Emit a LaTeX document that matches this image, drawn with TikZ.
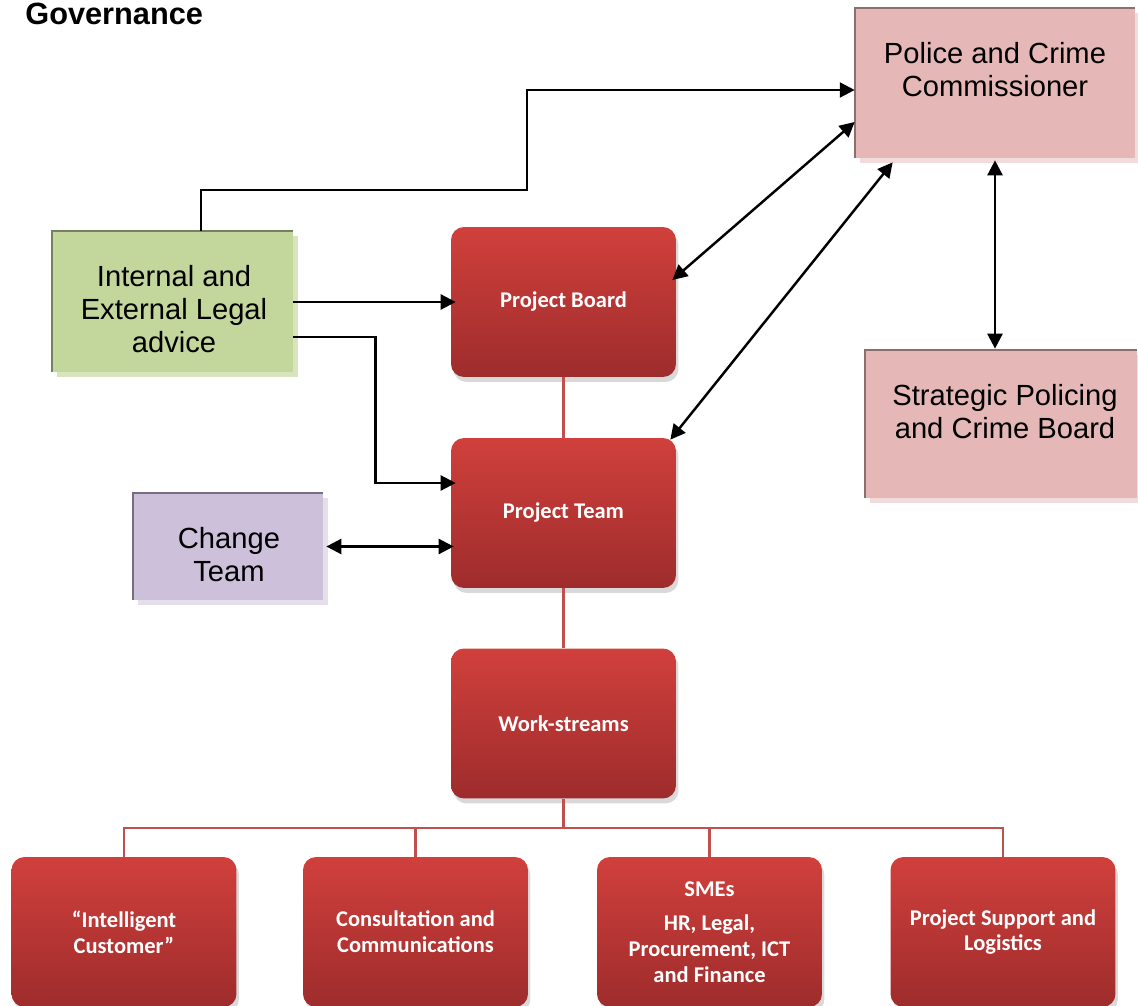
\documentclass[tikz,border=0pt]{standalone}
\usepackage{fontspec}
\setmainfont{Liberation Sans}
\newfontfamily\calib{Carlito}
\usetikzlibrary{arrows.meta,shadows,calc}
\definecolor{redtop}{RGB}{208,64,60}
\definecolor{redbot}{RGB}{158,44,44}
\definecolor{redline}{RGB}{192,80,77}
\definecolor{pinkfill}{RGB}{229,184,183}
\definecolor{pinkedge}{RGB}{140,110,110}
\definecolor{pinkshadow}{RGB}{242,220,219}
\definecolor{greenfill}{RGB}{195,214,155}
\definecolor{greenedge}{RGB}{118,128,98}
\definecolor{greenshadow}{RGB}{215,228,189}
\definecolor{lilacfill}{RGB}{204,192,218}
\definecolor{lilacedge}{RGB}{118,110,128}
\definecolor{lilacshadow}{RGB}{229,223,236}
\tikzset{
  redbox/.style={rounded corners=0.26cm, top color=redtop, bottom color=redbot,
    minimum width=4.5cm, minimum height=3cm, text=white, align=center,
    font=\calib\bfseries\fontsize{12.8}{14.7}\selectfont,
    drop shadow={shadow xshift=0.05cm, shadow yshift=-0.1cm, opacity=0.3}},
  flatbox/.style={inner sep=0pt},
  flattext/.style={align=center, inner sep=0pt, font=\fontsize{16.6}{18.7}\selectfont},
  arr/.style={line width=1.4pt, -{Triangle[length=8.5pt,width=8.5pt]}},
  dbl/.style={line width=1.4pt, {Triangle[length=8.5pt,width=8.5pt]}-{Triangle[length=8.5pt,width=8.5pt]}},
  redconn/.style={redline, line width=1.2pt},
  edgeline/.style={line width=1.3pt},
}
\begin{document}
\begin{tikzpicture}[x=0.02cm,y=-0.02cm]
\useasboundingbox (0,0) rectangle (1138,1006);

% title
\node[anchor=base west, inner sep=0pt, font=\bfseries\fontsize{17.5}{20}\selectfont] (title) at (25,25) {Governance};

% flat boxes
\node[flatbox, fill=pinkfill, minimum width=5.6cm, minimum height=3cm,
  general shadow={shadow xshift=0.1cm, shadow yshift=-0.1cm, fill=pinkshadow}] (pcc) at (995,83) {};
\draw[edgeline, pinkedge] (pcc.south west) -- (pcc.north west) -- (pcc.north east);
\node[flattext] (pcctxt) at (995,70) {Police and Crime\\Commissioner};

\node[flatbox, fill=pinkfill, minimum width=5.44cm, minimum height=2.96cm,
  general shadow={shadow xshift=0.1cm, shadow yshift=-0.1cm, fill=pinkshadow}] (spcb) at (1001,424) {};
\draw[edgeline, pinkedge] (spcb.south west) -- (spcb.north west) -- (spcb.north east);
\node[flattext] (spcbtxt) at (1005,412) {Strategic Policing\\and Crime Board};

\node[flatbox, fill=greenfill, minimum width=4.82cm, minimum height=2.82cm,
  general shadow={shadow xshift=0.1cm, shadow yshift=-0.1cm, fill=greenshadow}] (legal) at (172.5,301.5) {};
\draw[edgeline, greenedge] (legal.south west) -- (legal.north west) -- (legal.north east);
\node[flattext] (legaltxt) at (174,309) {Internal and\\External Legal\\advice};

\node[flatbox, fill=lilacfill, minimum width=3.8cm, minimum height=2.14cm,
  general shadow={shadow xshift=0.1cm, shadow yshift=-0.1cm, fill=lilacshadow}] (change) at (228,546.5) {};
\draw[edgeline, lilacedge] (change.south west) -- (change.north west) -- (change.north east);
\node[flattext] (changetxt) at (229,555) {Change\\Team};

% red boxes
\node[redbox] (pb) at (563.5,302) {Project Board};
\node[redbox] (pt) at (563.5,513) {Project Team};
\node[redbox] (ws) at (563.5,723.5) {Work-streams};
\node[redbox] (b1) at (124,932) {“Intelligent\\Customer”};
\node[redbox] (b2) at (415.5,932) {Consultation and\\Communications};
\node[redbox] (b3) at (709.5,932) {SMEs\\[5pt]HR, Legal,\\Procurement, ICT\\and Finance};
\node[redbox] (b4) at (1003,932) {Project Support and\\Logistics};

% red connectors
\coordinate (bus) at (563.5,828);
\draw[redconn] (pb.south) -- (pt.north);
\draw[redconn] (pt.south) -- (ws.north);
\draw[redconn] (ws.south) -- (bus);
\draw[redconn] (b1.north) |- (bus);
\draw[redconn] (b2.north) |- (bus);
\draw[redconn] (b3.north) |- (bus);
\draw[redconn] (b4.north) |- (bus);

% black arrows
\coordinate (bend) at (527,190);
\draw[arr] ([xshift=0.57cm]legal.north) |- (bend) |- ([yshift=-0.14cm]pcc.west);
\draw[arr] (legal.east |- pb.west) -- ([xshift=0.1cm]pb.west);
\draw[arr] ([yshift=-0.71cm]legal.east) -- ++(82,0) |- ([xshift=0.1cm,yshift=0.6cm]pt.west);
\draw[dbl] ([xshift=-0.08cm,yshift=0.44cm]pb.east) -- ([yshift=-0.78cm]pcc.west);
\draw[dbl] ([xshift=-0.12cm,yshift=-0.04cm]pt.north east) -- ([xshift=0.76cm,yshift=-0.08cm]pcc.south west);
\draw[dbl] ([yshift=-0.04cm]pcc.south) -- ([yshift=0.02cm]pcc.south |- spcb.north);
\draw[dbl] ([xshift=0.06cm]change.east) -- ([xshift=0.06cm]change.east -| pt.west);
\end{tikzpicture}
\end{document}
